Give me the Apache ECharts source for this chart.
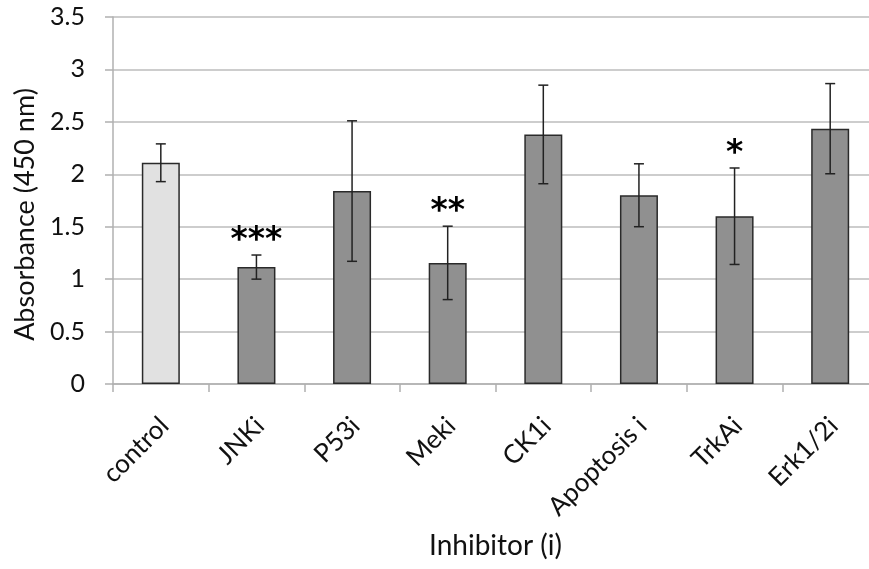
<!DOCTYPE html>
<html>
<head>
<meta charset="utf-8">
<script src="https://cdn.jsdelivr.net/npm/echarts@6/dist/echarts.min.js"></script>
<style>
  html, body { margin: 0; padding: 0; background: #fff; }
  #chart { width: 869px; height: 569px; }
</style>
</head>
<body>
<div id="chart"></div>
<script>
// values
const categories = ['control', 'JNKi', 'P53i', 'Meki', 'CK1i', 'Apoptosis i', 'TrkAi', 'Erk1/2i'];
const means = [2.11, 1.115, 1.84, 1.155, 2.38, 1.8, 1.6, 2.435];
const errors = [0.18, 0.115, 0.67, 0.35, 0.47, 0.3, 0.46, 0.43];
const stars = ['', '***', '', '**', '', '', '*', ''];
const yTicks = [0, 0.5, 1, 1.5, 2, 2.5, 3, 3.5];

const font = 'Lato, "Open Sans", sans-serif';

const barData = means.map((v, i) => ({
  value: v,
  itemStyle: { color: i === 0 ? '#e1e1e1' : '#909090' }
}));
const errData = means.map((v, i) => [i, v - errors[i], v + errors[i]]);

const chart = echarts.init(document.getElementById('chart'));
chart.setOption({
  animation: false,
  grid: { left: 113, top: 17, width: 765, height: 367, containLabel: false, outerBoundsMode: 'none' },
  xAxis: {
    type: 'category',
    data: categories,
    axisLine: { lineStyle: { color: '#b0b0b0', width: 1.5 } },
    axisTick: { show: true, length: 8, lineStyle: { color: '#b0b0b0', width: 1.5 } },
    axisLabel: {
      rotate: 45, margin: 34, fontSize: 26,
      verticalAlign: 'top', lineHeight: 10,
      fontFamily: font, color: '#111', interval: 0
    },
    name: 'Inhibitor (i)',
    nameLocation: 'middle',
    nameGap: 148,
    nameTextStyle: { fontSize: 28, fontFamily: font, color: '#111' }
  },
  yAxis: {
    type: 'value',
    min: 0, max: 3.5, interval: 0.5,
    axisLine: { show: true, lineStyle: { color: '#b0b0b0', width: 1.5 } },
    axisTick: { show: true, length: 8, lineStyle: { color: '#b0b0b0', width: 1.5 } },
    splitLine: { lineStyle: { color: '#bcbcbc', width: 1.5 } },
    axisLabel: {
      fontSize: 25, fontFamily: font, color: '#111', margin: 28,
      formatter: v => yTicks.includes(v) ? String(v) : ''
    },
    name: 'Absorbance (450 nm)',
    nameLocation: 'middle',
    nameGap: 74,
    nameTextStyle: { fontSize: 27, fontFamily: font, color: '#111', padding: [0, 28, 0, 0] }
  },
  series: [
    {
      type: 'bar',
      data: barData,
      barWidth: 38,
      itemStyle: { borderColor: '#2a2a2a', borderWidth: 1.5 }
    },
    {
      type: 'custom',
      data: errData,
      z: 10,
      renderItem: (params, api) => {
        const x = api.coord([api.value(0), 0])[0];
        const lo = api.coord([api.value(0), api.value(1)])[1];
        const hi = api.coord([api.value(0), api.value(2)])[1];
        const cap = 5;
        const style = { stroke: '#222', lineWidth: 1.5 };
        const children = [
          { type: 'line', shape: { x1: x, y1: hi, x2: x, y2: lo }, style },
          { type: 'line', shape: { x1: x - cap, y1: hi, x2: x + cap, y2: hi }, style },
          { type: 'line', shape: { x1: x - cap, y1: lo, x2: x + cap, y2: lo }, style }
        ];
        const s = stars[params.dataIndex];
        if (s) {
          children.push({
            type: 'text',
            style: {
              text: s, x: x, y: hi + 3,
              align: 'center', verticalAlign: 'bottom',
              fontSize: 33, fontWeight: 'bold', fontFamily: 'DejaVu Sans', fill: '#000'
            }
          });
        }
        return { type: 'group', children };
      }
    }
  ]
});
</script>
</body>
</html>
